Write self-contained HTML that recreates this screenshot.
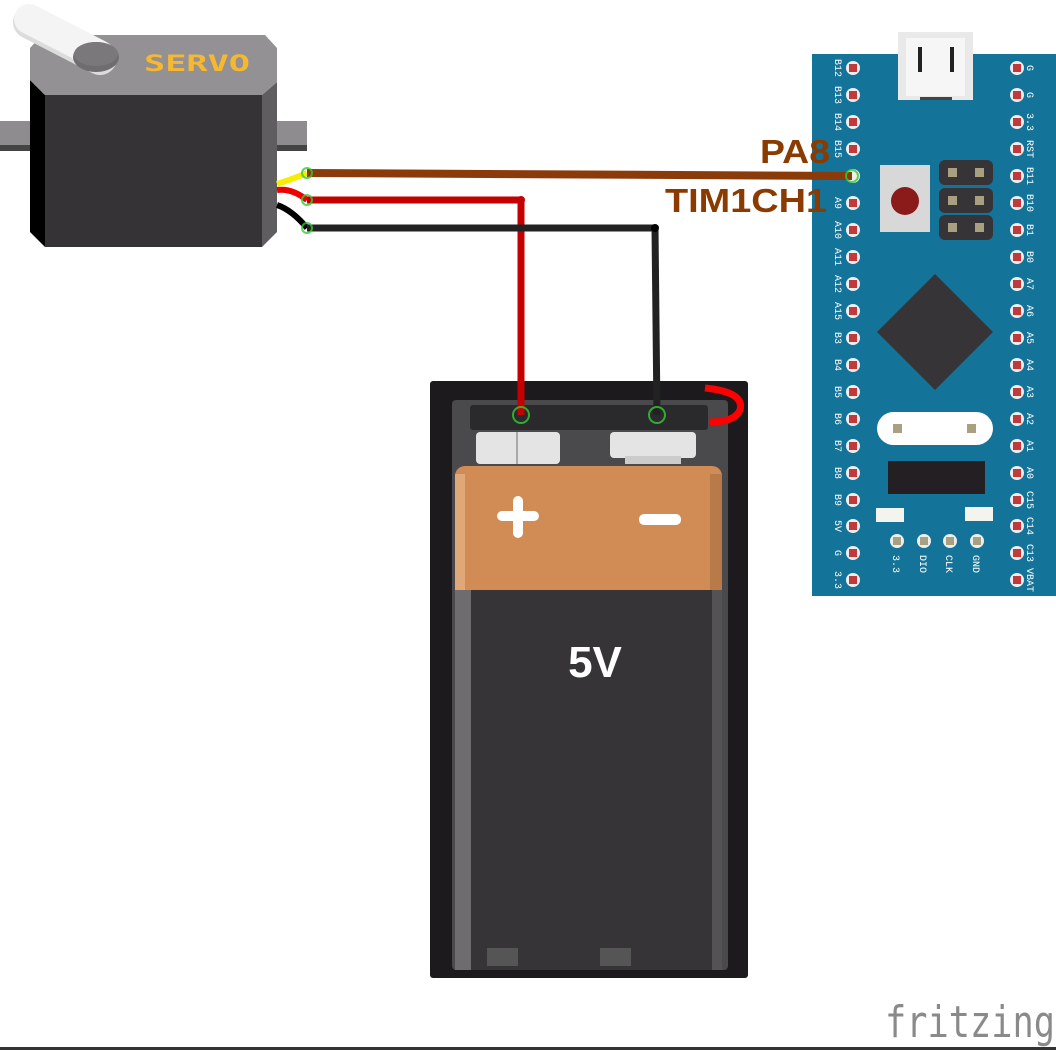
<!DOCTYPE html>
<html><head><meta charset="utf-8"><style>
html,body{margin:0;padding:0;background:#fff;}
svg{display:block;}
</style></head><body>
<svg width="1056" height="1050" viewBox="0 0 1056 1050" xmlns="http://www.w3.org/2000/svg" font-family="Liberation Sans, sans-serif">
<rect width="1056" height="1050" fill="#fff"/>
<!-- Servo -->
<rect x="0" y="121" width="45" height="30" fill="#8e8c8e"/>
<rect x="0" y="145" width="45" height="6" fill="#444"/>
<rect x="262" y="121" width="45" height="30" fill="#8e8c8e"/>
<rect x="262" y="145" width="45" height="6" fill="#444"/>
<polygon points="30,80 45,95 45,247 30,232" fill="#000"/>
<polygon points="262,95 277,82 277,232 262,247" fill="#5f5d60"/>
<rect x="45" y="95" width="217" height="152" fill="#353336"/>
<polygon points="30,48 42,35 265,35 277,48 277,82 262,95 45,95 30,80" fill="#939193"/>
<line x1="30" y1="22" x2="100" y2="58" stroke="#dcdcdc" stroke-width="34" stroke-linecap="round"/>
<line x1="29" y1="19" x2="99" y2="55" stroke="#f4f4f4" stroke-width="30" stroke-linecap="round"/>
<ellipse cx="96" cy="57" rx="23" ry="15" fill="#6f6d70"/>
<ellipse cx="96" cy="54" rx="22" ry="12" fill="#7a787b"/>
<text x="144" y="71" font-family="DejaVu Sans Mono, monospace" font-weight="bold" font-size="22" fill="#f6b830" textLength="106" lengthAdjust="spacingAndGlyphs">SERVO</text>
<!-- servo leads -->
<path d="M277,184 Q290,180 307,173" stroke="#f5ee00" stroke-width="6" fill="none"/>
<path d="M277,190 Q292,188 307,200" stroke="#e00" stroke-width="6" fill="none"/>
<path d="M277,205 Q292,210 307,228" stroke="#000" stroke-width="6" fill="none"/>
<!-- Board -->
<rect x="812" y="54" width="244" height="542" fill="#147399"/>
<rect x="898" y="32" width="75" height="68" fill="#e9e9e9"/>
<rect x="906" y="38" width="59" height="58" fill="#f6f6f6"/>
<rect x="918" y="47" width="4" height="25" fill="#222"/>
<rect x="950" y="47" width="4" height="25" fill="#222"/>
<rect x="920" y="97" width="32" height="3" fill="#444"/>
<rect x="880" y="165" width="50" height="67" fill="#d8d8d8"/>
<circle cx="905" cy="201" r="14" fill="#8b1a1a"/>
<rect x="939" y="160" width="54" height="25" rx="6" fill="#363437"/>
<rect x="939" y="188" width="54" height="25" rx="6" fill="#363437"/>
<rect x="939" y="215" width="54" height="25" rx="6" fill="#363437"/>
<g fill="#a8a080"><rect x="948" y="168" width="9" height="9"/><rect x="975" y="168" width="9" height="9"/><rect x="948" y="196" width="9" height="9"/><rect x="975" y="196" width="9" height="9"/><rect x="948" y="223" width="9" height="9"/><rect x="975" y="223" width="9" height="9"/></g>
<polygon points="935,274 993,332 935,390 877,332" fill="#363437"/>
<rect x="877" y="412" width="116" height="33" rx="16.5" fill="#fff"/>
<rect x="893" y="424" width="9" height="9" fill="#a8a080"/><rect x="967" y="424" width="9" height="9" fill="#a8a080"/>
<rect x="888" y="461" width="97" height="33" fill="#231f22"/>
<rect x="876" y="508" width="28" height="14" fill="#f4f4ee"/>
<rect x="965" y="507" width="28" height="14" fill="#f4f4ee"/>
<g id="pins">
<g fill="#eee"><circle cx="853" cy="68" r="7"/><circle cx="853" cy="95" r="7"/><circle cx="853" cy="122" r="7"/><circle cx="853" cy="149" r="7"/><circle cx="853" cy="176" r="7"/><circle cx="853" cy="203" r="7"/><circle cx="853" cy="230" r="7"/><circle cx="853" cy="257" r="7"/><circle cx="853" cy="284" r="7"/><circle cx="853" cy="311" r="7"/><circle cx="853" cy="338" r="7"/><circle cx="853" cy="365" r="7"/><circle cx="853" cy="392" r="7"/><circle cx="853" cy="419" r="7"/><circle cx="853" cy="446" r="7"/><circle cx="853" cy="473" r="7"/><circle cx="853" cy="500" r="7"/><circle cx="853" cy="526" r="7"/><circle cx="853" cy="553" r="7"/><circle cx="853" cy="580" r="7"/>
<circle cx="1017" cy="68" r="7"/><circle cx="1017" cy="95" r="7"/><circle cx="1017" cy="122" r="7"/><circle cx="1017" cy="149" r="7"/><circle cx="1017" cy="176" r="7"/><circle cx="1017" cy="203" r="7"/><circle cx="1017" cy="230" r="7"/><circle cx="1017" cy="257" r="7"/><circle cx="1017" cy="284" r="7"/><circle cx="1017" cy="311" r="7"/><circle cx="1017" cy="338" r="7"/><circle cx="1017" cy="365" r="7"/><circle cx="1017" cy="392" r="7"/><circle cx="1017" cy="419" r="7"/><circle cx="1017" cy="446" r="7"/><circle cx="1017" cy="473" r="7"/><circle cx="1017" cy="500" r="7"/><circle cx="1017" cy="526" r="7"/><circle cx="1017" cy="553" r="7"/><circle cx="1017" cy="580" r="7"/>
<circle cx="897" cy="541" r="7"/><circle cx="924" cy="541" r="7"/><circle cx="950" cy="541" r="7"/><circle cx="977" cy="541" r="7"/></g>
<g fill="#c0393b"><rect x="849" y="64" width="8" height="8"/><rect x="849" y="91" width="8" height="8"/><rect x="849" y="118" width="8" height="8"/><rect x="849" y="145" width="8" height="8"/><rect x="849" y="199" width="8" height="8"/><rect x="849" y="226" width="8" height="8"/><rect x="849" y="253" width="8" height="8"/><rect x="849" y="280" width="8" height="8"/><rect x="849" y="307" width="8" height="8"/><rect x="849" y="334" width="8" height="8"/><rect x="849" y="361" width="8" height="8"/><rect x="849" y="388" width="8" height="8"/><rect x="849" y="415" width="8" height="8"/><rect x="849" y="442" width="8" height="8"/><rect x="849" y="469" width="8" height="8"/><rect x="849" y="496" width="8" height="8"/><rect x="849" y="522" width="8" height="8"/><rect x="849" y="549" width="8" height="8"/><rect x="849" y="576" width="8" height="8"/>
<rect x="1013" y="64" width="8" height="8"/><rect x="1013" y="91" width="8" height="8"/><rect x="1013" y="118" width="8" height="8"/><rect x="1013" y="145" width="8" height="8"/><rect x="1013" y="172" width="8" height="8"/><rect x="1013" y="199" width="8" height="8"/><rect x="1013" y="226" width="8" height="8"/><rect x="1013" y="253" width="8" height="8"/><rect x="1013" y="280" width="8" height="8"/><rect x="1013" y="307" width="8" height="8"/><rect x="1013" y="334" width="8" height="8"/><rect x="1013" y="361" width="8" height="8"/><rect x="1013" y="388" width="8" height="8"/><rect x="1013" y="415" width="8" height="8"/><rect x="1013" y="442" width="8" height="8"/><rect x="1013" y="469" width="8" height="8"/><rect x="1013" y="496" width="8" height="8"/><rect x="1013" y="522" width="8" height="8"/><rect x="1013" y="549" width="8" height="8"/><rect x="1013" y="576" width="8" height="8"/></g>
<g fill="#a8a080"><rect x="893" y="537" width="8" height="8"/><rect x="920" y="537" width="8" height="8"/><rect x="946" y="537" width="8" height="8"/><rect x="973" y="537" width="8" height="8"/></g>
</g>
<g font-family="Liberation Mono, monospace" font-size="10" fill="#fff" text-anchor="middle">
<text transform="translate(835,68) rotate(90)">B12</text><text transform="translate(835,95) rotate(90)">B13</text><text transform="translate(835,122) rotate(90)">B14</text><text transform="translate(835,149) rotate(90)">B15</text><text transform="translate(835,203) rotate(90)">A9</text><text transform="translate(835,230) rotate(90)">A10</text><text transform="translate(835,257) rotate(90)">A11</text><text transform="translate(835,284) rotate(90)">A12</text><text transform="translate(835,311) rotate(90)">A15</text><text transform="translate(835,338) rotate(90)">B3</text><text transform="translate(835,365) rotate(90)">B4</text><text transform="translate(835,392) rotate(90)">B5</text><text transform="translate(835,419) rotate(90)">B6</text><text transform="translate(835,446) rotate(90)">B7</text><text transform="translate(835,473) rotate(90)">B8</text><text transform="translate(835,500) rotate(90)">B9</text><text transform="translate(835,526) rotate(90)">5V</text><text transform="translate(835,553) rotate(90)">G</text><text transform="translate(835,580) rotate(90)">3.3</text>
<text transform="translate(1027,68) rotate(90)">G</text><text transform="translate(1027,95) rotate(90)">G</text><text transform="translate(1027,122) rotate(90)">3.3</text><text transform="translate(1027,149) rotate(90)">RST</text><text transform="translate(1027,176) rotate(90)">B11</text><text transform="translate(1027,203) rotate(90)">B10</text><text transform="translate(1027,230) rotate(90)">B1</text><text transform="translate(1027,257) rotate(90)">B0</text><text transform="translate(1027,284) rotate(90)">A7</text><text transform="translate(1027,311) rotate(90)">A6</text><text transform="translate(1027,338) rotate(90)">A5</text><text transform="translate(1027,365) rotate(90)">A4</text><text transform="translate(1027,392) rotate(90)">A3</text><text transform="translate(1027,419) rotate(90)">A2</text><text transform="translate(1027,446) rotate(90)">A1</text><text transform="translate(1027,473) rotate(90)">A0</text><text transform="translate(1027,500) rotate(90)">C15</text><text transform="translate(1027,526) rotate(90)">C14</text><text transform="translate(1027,553) rotate(90)">C13</text><text transform="translate(1027,580) rotate(90)">VBAT</text>
<text transform="translate(893,564) rotate(90)">3.3</text><text transform="translate(920,564) rotate(90)">DIO</text><text transform="translate(946,564) rotate(90)">CLK</text><text transform="translate(973,564) rotate(90)">GND</text>
</g>
<!-- Battery -->
<rect x="430" y="381" width="318" height="597" rx="3" fill="#1c1a1d"/>
<rect x="452" y="400" width="276" height="570" rx="4" fill="#4a494b"/>
<rect x="470" y="405" width="238" height="25" rx="3" fill="#2a2a2c"/>
<rect x="476" y="432" width="84" height="32" rx="4" fill="#e4e4e4"/>
<rect x="516" y="432" width="2" height="32" fill="#aaa"/>
<rect x="610" y="432" width="86" height="26" rx="4" fill="#e4e4e4"/>
<rect x="625" y="456" width="56" height="8" fill="#ccc"/>
<rect x="455" y="466" width="267" height="126" rx="10" fill="#d18b54"/>
<rect x="455" y="474" width="10" height="118" fill="#e0a878"/>
<rect x="710" y="474" width="12" height="118" fill="#b87a48"/>
<rect x="455" y="590" width="267" height="380" fill="#363437"/>
<rect x="455" y="590" width="16" height="380" fill="#6e6c6f"/>
<rect x="712" y="590" width="10" height="380" fill="#545255"/>
<rect x="487" y="948" width="31" height="18" fill="#555"/>
<rect x="600" y="948" width="31" height="18" fill="#555"/>
<rect x="497" y="511" width="42" height="10" rx="5" fill="#fff"/>
<rect x="513" y="496" width="10" height="42" rx="5" fill="#fff"/>
<rect x="639" y="514" width="42" height="11" rx="5" fill="#fff"/>
<text x="595" y="677" font-weight="bold" font-size="44" fill="#fff" text-anchor="middle">5V</text>
<path d="M705,388 Q745,392 740,410 Q735,422 710,422" stroke="#f00" stroke-width="7" fill="none"/>
<!-- Wires -->
<path d="M307,173 L852,176" stroke="#8b3a0a" stroke-width="8" fill="none"/>
<path d="M307,200 L521,200 L521,415" stroke="#c40000" stroke-width="7" fill="none" stroke-linejoin="round"/>
<path d="M307,228 L655,228 L657,415" stroke="#222" stroke-width="7" fill="none" stroke-linejoin="round"/>
<g fill="none" stroke="#3c3" stroke-width="2" opacity="0.8">
<circle cx="307" cy="173" r="5"/><circle cx="307" cy="200" r="5"/><circle cx="307" cy="228" r="5"/><circle cx="852" cy="176" r="6"/><circle cx="521" cy="415" r="8"/><circle cx="657" cy="415" r="8"/></g>
<circle cx="521" cy="200" r="4" fill="#c40000"/><circle cx="655" cy="228" r="4" fill="#000"/>
<text x="760" y="163" font-weight="bold" font-size="33" fill="#8b3a00" textLength="70" lengthAdjust="spacingAndGlyphs">PA8</text>
<text x="665" y="212" font-weight="bold" font-size="33" fill="#8b3a00" textLength="162" lengthAdjust="spacingAndGlyphs">TIM1CH1</text>
<text x="885" y="1037" font-family="DejaVu Sans Mono, monospace" font-size="44" fill="#8a8a8a" textLength="170" lengthAdjust="spacingAndGlyphs">fritzing</text>
<rect x="0" y="1047" width="1056" height="3" fill="#333"/>
</svg>
</body></html>
